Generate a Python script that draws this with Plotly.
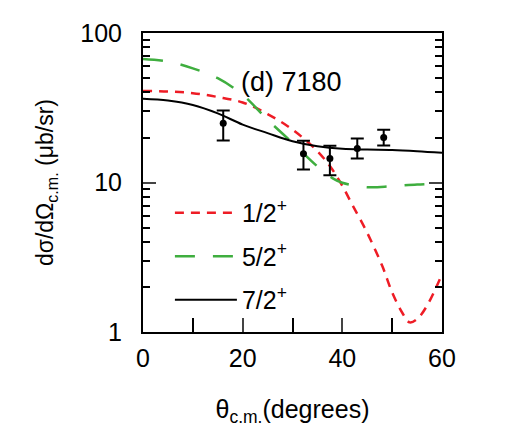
import plotly.graph_objects as go

# Experimental data
theta_exp = [16.1, 32.2, 37.5, 43.0, 48.3]
sigma_exp = [24.9, 15.6, 14.5, 16.9, 20.0]
err_up = [5.4, 3.4, 3.1, 2.8, 2.5]
err_down = [5.8, 3.4, 3.3, 2.4, 2.3]

# 1/2+ curve
theta_12 = [0, 5, 10, 15, 20, 25, 30, 35, 38, 40, 42, 45, 48, 50, 52, 53.5, 55, 57, 60]
sigma_12 = [41, 40.6, 39.6, 37.3, 34.3, 28.7, 22.6, 16.2, 12.2, 9.5, 7.1, 4.6, 2.77, 1.84, 1.35, 1.16, 1.22, 1.5, 2.44]

# 5/2+ curve
theta_52 = [0, 5, 10, 15, 20, 25, 30, 35, 38, 40, 45, 50, 55, 60]
sigma_52 = [67, 64.4, 58, 49.9, 38.6, 26.3, 18.4, 12.8, 10.7, 9.96, 9.3, 9.46, 9.7, 9.85]

# 7/2+ curve
theta_72 = [0, 5, 10, 15, 20, 25, 30, 35, 40, 45, 50, 55, 60]
sigma_72 = [36.3, 35.3, 33, 29, 24.4, 21.4, 18.9, 17.5, 16.8, 16.6, 16.5, 16.2, 15.8]

x_tickvals = [0, 20, 40, 60]
y_tickvals = [1, 10, 100]

FONT = "Liberation Sans, Arial, Helvetica, sans-serif"

fig = go.Figure()
fig.add_trace(go.Scatter(x=theta_12, y=sigma_12, mode="lines", name="1/2<sup>+</sup>",
                         line=dict(color="#ee1c25", width=2.5, dash="9px,7px", shape="spline"),
                         legendgroup="a"))
fig.add_trace(go.Scatter(x=theta_52, y=sigma_52, mode="lines", name="5/2<sup>+</sup>",
                         line=dict(color="#3fae3f", width=2.5, dash="20px,18px", shape="spline"),
                         legendgroup="b"))
fig.add_trace(go.Scatter(x=theta_72, y=sigma_72, mode="lines", name="7/2<sup>+</sup>",
                         line=dict(color="black", width=2, shape="spline"),
                         legendgroup="c"))
fig.add_trace(go.Scatter(x=theta_exp, y=sigma_exp, mode="markers", showlegend=False,
                         marker=dict(color="black", size=7),
                         error_y=dict(type="data", symmetric=False, array=err_up, arrayminus=err_down,
                                      color="black", thickness=2, width=6.5)))

fig.add_annotation(x=29.8, y=1.675, xref="x", yref="y", text="(d) 7180", showarrow=False,
                   font=dict(family=FONT, size=27, color="black"))

fig.update_layout(
    width=509, height=444,
    margin=dict(l=143, r=67, t=33, b=112),
    paper_bgcolor="white", plot_bgcolor="white",
    font=dict(family=FONT, color="black"),
    legend=dict(x=0.09, y=0.475, xanchor="left", yanchor="top", bgcolor="rgba(0,0,0,0)",
                font=dict(family=FONT, size=25), tracegroupgap=8, itemwidth=62),
    xaxis=dict(range=[0, 60], tickvals=x_tickvals, ticks="inside", ticklen=14, tickwidth=1.5,
               showline=True, linecolor="black", linewidth=2, mirror=True, showgrid=False, zeroline=False,
               tickfont=dict(family=FONT, size=25), ticklabelstandoff=3,
               minor=dict(dtick=10, ticks="inside", ticklen=14, tickwidth=1.5, tickcolor="black", showgrid=False),
               title=dict(text="θ<sub>c.m.</sub>(degrees)", font=dict(family=FONT, size=25), standoff=29)),
    yaxis=dict(type="log", range=[0, 2], tickvals=y_tickvals, ticks="inside", ticklen=13, tickwidth=1.5,
               showline=True, linecolor="black", linewidth=2, mirror="ticks", showgrid=False, zeroline=False,
               tickfont=dict(family=FONT, size=25), ticklabelstandoff=14,
               minor=dict(dtick="D1", ticks="inside", ticklen=7, tickwidth=1.5, tickcolor="black", showgrid=False),
               title=dict(text="dσ/dΩ<sub>c.m.</sub> (μb/sr)", font=dict(family=FONT, size=23), standoff=20)),
)

fig.write_html("out.html")
